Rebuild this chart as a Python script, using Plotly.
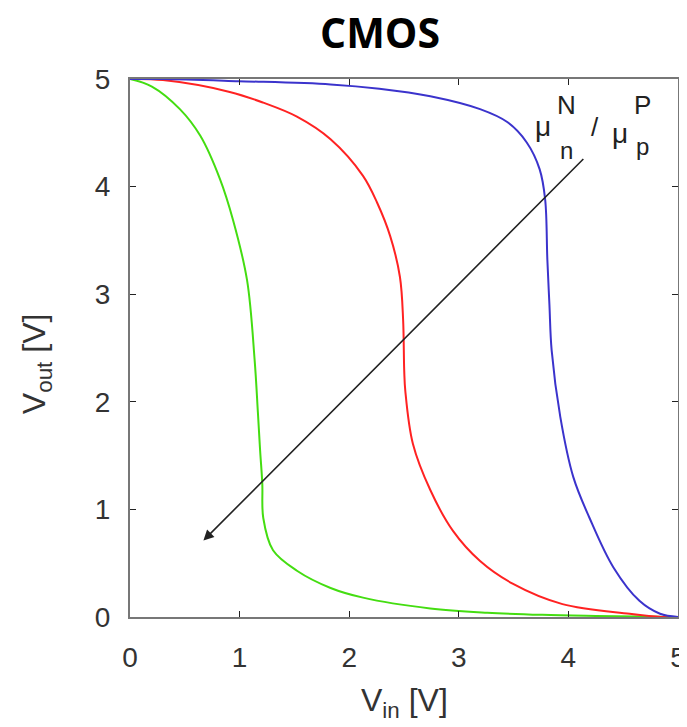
import plotly.graph_objects as go

# Data (Vin, Vout)
green_vin = [0.0, 0.2, 0.455, 0.643, 0.821, 0.94, 1.068, 1.137, 1.167, 1.187, 1.207, 1.216, 1.305, 1.523, 1.83, 2.126, 2.74, 3.26, 3.76, 4.25, 5.0]
green_vout = [5.0, 4.93, 4.72, 4.47, 4.07, 3.69, 3.13, 2.39, 1.9, 1.55, 1.24, 0.92, 0.62, 0.43, 0.27, 0.18, 0.08, 0.04, 0.02, 0.01, 0.0]

red_vin = [0.0, 0.3, 0.91, 1.216, 1.523, 1.83, 2.126, 2.255, 2.374, 2.463, 2.492, 2.502, 2.512, 2.581, 2.74, 2.947, 3.194, 3.491, 3.946, 4.559, 4.85, 5.0]
red_vout = [5.0, 4.99, 4.88, 4.78, 4.65, 4.44, 4.1, 3.85, 3.54, 3.16, 2.76, 2.29, 2.1, 1.61, 1.18, 0.8, 0.52, 0.31, 0.12, 0.03, 0.0, 0.0]

blue_vin = [0.0, 0.3, 0.99, 1.83, 2.275, 2.74, 3.194, 3.442, 3.62, 3.738, 3.788, 3.808, 3.827, 3.847, 3.926, 4.045, 4.193, 4.411, 4.648, 4.836, 5.0]
blue_vout = [5.0, 5.0, 4.98, 4.95, 4.91, 4.84, 4.72, 4.6, 4.41, 4.16, 3.88, 3.32, 2.9, 2.48, 1.86, 1.3, 0.92, 0.46, 0.15, 0.03, 0.0]

arrow_start = (4.15, 4.27)
arrow_end = (0.67, 0.71)

tick_vals = [0, 1, 2, 3, 4, 5]
tick_text = ["0", "1", "2", "3", "4", "5"]

FONT = "Liberation Sans, Arial, sans-serif"

fig = go.Figure()
fig.add_trace(go.Scatter(x=green_vin, y=green_vout, mode="lines", line=dict(color="#44dd11", width=2), line_shape="spline"))
fig.add_trace(go.Scatter(x=red_vin, y=red_vout, mode="lines", line=dict(color="#ff2222", width=2), line_shape="spline"))
fig.add_trace(go.Scatter(x=blue_vin, y=blue_vout, mode="lines", line=dict(color="#3b33cc", width=2), line_shape="spline"))

fig.add_annotation(x=arrow_end[0], y=arrow_end[1], ax=arrow_start[0], ay=arrow_start[1],
                   xref="x", yref="y", axref="x", ayref="y", text="", showarrow=True,
                   arrowhead=2, arrowsize=1.3, arrowwidth=1.6, arrowcolor="#222")

labels = [
    ("μ", 3.77, 4.56, 28),
    ("n", 3.98, 4.34, 24),
    ("N", 3.98, 4.76, 26),
    ("/", 4.24, 4.55, 26),
    ("μ", 4.47, 4.49, 28),
    ("p", 4.68, 4.375, 24),
    ("P", 4.68, 4.76, 26),
]
for t, x, y, s in labels:
    fig.add_annotation(x=x, y=y, xref="x", yref="y", text=t, showarrow=False,
                       font=dict(family=FONT, size=s, color="#222"))

# axis titles
fig.add_annotation(x=0.5, y=0, xref="paper", yref="paper", xanchor="center", yanchor="top",
                   yshift=-63, text="V<sub>in</sub> [V]", showarrow=False,
                   font=dict(family=FONT, size=32, color="#333"))
fig.add_annotation(x=0, y=0.47, xref="paper", yref="paper", xanchor="center", yanchor="middle",
                   xshift=-94, textangle=-90, text="V<sub>out</sub> [V]", showarrow=False,
                   font=dict(family=FONT, size=32, color="#333"))

axis_common = dict(range=[0, 5], tickvals=tick_vals, ticktext=tick_text, ticks="inside", ticklen=6,
                   tickcolor="#222", showline=True, linecolor="#777", linewidth=2, mirror="ticks",
                   showgrid=False, zeroline=False, automargin=False,
                   tickfont=dict(family=FONT, size=28, color="#333"))

fig.update_layout(
    width=679, height=719,
    margin=dict(l=122, r=9, t=71, b=110),
    paper_bgcolor="white", plot_bgcolor="white",
    showlegend=False,
    title=dict(text="<b>CMOS</b>", x=0.548, xanchor="center", y=0.964, yanchor="middle",
               font=dict(family="Open Sans, sans-serif", size=41, color="black")),
    xaxis=dict(**axis_common, ticklabelstandoff=14),
    yaxis=dict(**axis_common, ticklabelstandoff=12),
)

fig.write_html("out.html")
